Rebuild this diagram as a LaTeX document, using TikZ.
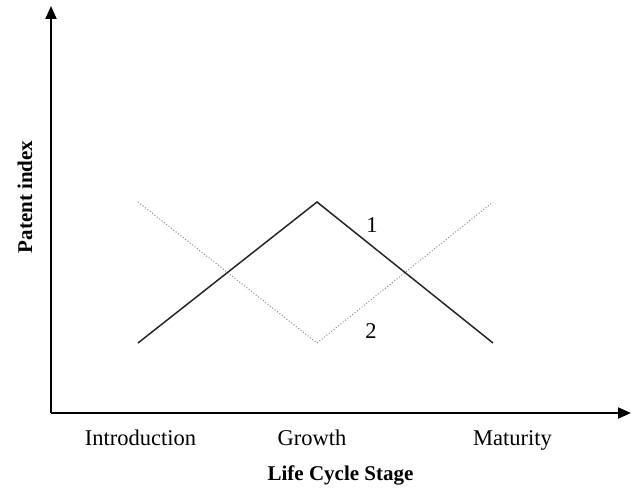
\documentclass[tikz,border=0pt]{standalone}
\usepackage{fontspec}
\setmainfont{Liberation Serif}
\usetikzlibrary{arrows.meta}
\begin{document}
\begin{tikzpicture}[x=1pt,y=-1pt,
  axis/.style={line width=2pt,-{Triangle[length=13pt,width=11pt]}},
  curveone/.style={line width=1.5pt,black!85,line join=miter},
  curvetwo/.style={line width=1pt,black!45,dotted},
  lbl/.style={inner sep=0pt,anchor=base,font=\fontsize{22.5}{27}\selectfont},
  bold/.style={inner sep=0pt,anchor=base,font=\fontsize{21}{25}\selectfont\bfseries}]
\useasboundingbox (0,0) rectangle (631,492);
\coordinate (O) at (51,413);
\coordinate (ytip) at (51,6);
\coordinate (xtip) at (631,413);
\coordinate (a1) at (138,343);
\coordinate (p1) at (317,202);
\coordinate (b1) at (493,343);
\coordinate (a2) at (138,202);
\coordinate (p2) at (317,343);
\coordinate (b2) at (493,202);
\draw[curvetwo] (a2) -- (p2) -- (b2);
\draw[curveone] (a1) -- (p1) -- (b1);
\draw[axis] (O) -- (ytip);
\draw[axis] (O) -- (xtip);
\node[lbl] (n1) at (372,232) {1};
\node[lbl] (n2) at (371,338) {2};
\node[lbl] (intro) at (140.5,445) {Introduction};
\node[lbl] (growth) at (312,445) {Growth};
\node[lbl] (mat) at (512.5,445) {Maturity};
\node[bold] (xlab) at (340.5,480) {Life Cycle Stage};
\node[bold,rotate=90] (ylab) at (32,197) {Patent index};
\end{tikzpicture}
\end{document}
